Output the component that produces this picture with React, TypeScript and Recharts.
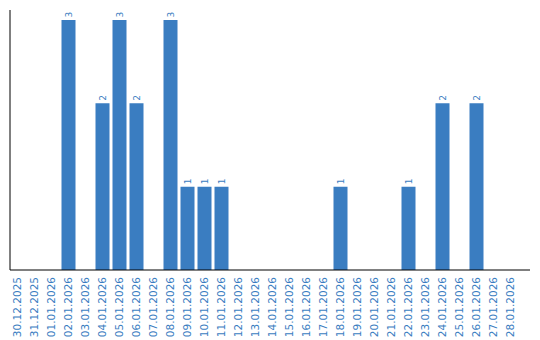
import { BarChart, Bar, XAxis, YAxis, LabelList } from "recharts";

const dates = [
  "30.12.2025", "31.12.2025", "01.01.2026", "02.01.2026", "03.01.2026",
  "04.01.2026", "05.01.2026", "06.01.2026", "07.01.2026", "08.01.2026",
  "09.01.2026", "10.01.2026", "11.01.2026", "12.01.2026", "13.01.2026",
  "14.01.2026", "15.01.2026", "16.01.2026", "17.01.2026", "18.01.2026",
  "19.01.2026", "20.01.2026", "21.01.2026", "22.01.2026", "23.01.2026",
  "24.01.2026", "25.01.2026", "26.01.2026", "27.01.2026", "28.01.2026",
];

const counts = [
  0, 0, 0, 3, 0, 2, 3, 2, 0, 3,
  1, 1, 1, 0, 0, 0, 0, 0, 0, 1,
  0, 0, 0, 1, 0, 2, 0, 2, 0, 0,
];

const BLUE = "#3a7dc1";

const data = dates.map((d, i) => ({ date: d, count: counts[i] }));

const DateTick = (props: any) => {
  const { x, payload } = props;
  return (
    <text
      transform={`translate(${x},277) rotate(-90)`}
      textAnchor="end"
      dominantBaseline="central"
      fontFamily="DejaVu Sans"
      fontSize={10.5}
      fill={BLUE}
    >
      {payload.value}
    </text>
  );
};

const ValueLabel = (props: any) => {
  const { x, y, width, value } = props;
  if (!value) return null;
  const cx = x + width / 2;
  return (
    <text
      transform={`translate(${cx},${y - 2.5}) rotate(-90)`}
      textAnchor="start"
      dominantBaseline="central"
      fontFamily="DejaVu Sans"
      fontSize={9}
      fill={BLUE}
    >
      {value}
    </text>
  );
};

export default function App() {
  return (
    <div style={{ position: "absolute", left: 0, top: 0 }}>
      <BarChart
        width={540}
        height={340}
        data={data}
        margin={{ top: 10, right: 10, bottom: 0, left: 9 }}
      >
        <XAxis
          dataKey="date"
          interval={0}
          height={70}
          padding={{ left: -1.5, right: 11.5 }}
          tickLine={false}
          axisLine={{ stroke: "#000" }}
          tick={<DateTick />}
        />
        <YAxis
          width={1}
          domain={[0, 3.12]}
          tick={false}
          tickLine={false}
          axisLine={{ stroke: "#000" }}
        />
        <Bar dataKey="count" fill={BLUE} barSize={14} isAnimationActive={false}>
          <LabelList dataKey="count" content={<ValueLabel />} />
        </Bar>
      </BarChart>
    </div>
  );
}
